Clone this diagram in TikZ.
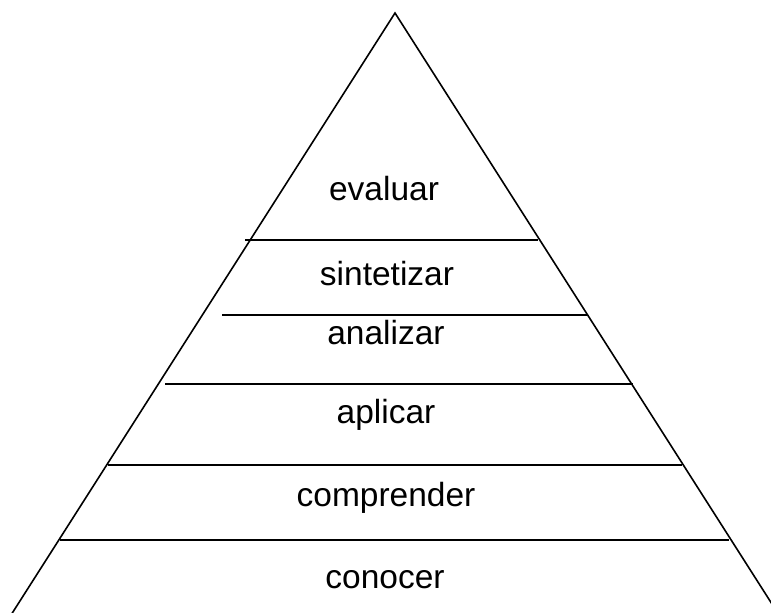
\documentclass[tikz,border=0pt]{standalone}
\usepackage{fontspec}
\setmainfont{Liberation Sans}
\begin{document}
\begin{tikzpicture}[x=1pt,y=-1pt,
  edge/.style={draw=black,line width=1.6pt},
  level/.style={draw=black,line width=1.6pt},
  lab/.style={anchor=base,inner sep=0pt,font=\fontsize{33.5}{40}\selectfont}]
\useasboundingbox (0,0) rectangle (771,613);
\clip (0,0) rectangle (771,613);
% triangle
\coordinate (apex) at (395,13);
\coordinate (bl) at (11,615);
\coordinate (br) at (779,615);
\draw[edge,line join=miter] (bl) -- (apex) -- (br);
% level lines
\draw[level] (245,240) -- (538,240);
\draw[level] (222,315) -- (587,315);
\draw[level] (165,384) -- (633,384);
\draw[level] (108,465) -- (682,465);
\draw[level] (60,540) -- (729,540);
% labels
\node[lab] (evaluar) at (384,200) {evaluar};
\node[lab] (sintetizar) at (387,285) {sintetizar};
\node[lab] (analizar) at (386,344) {analizar};
\node[lab] (aplicar) at (386,423) {aplicar};
\node[lab] (comprender) at (386,506) {comprender};
\node[lab] (conocer) at (385,588) {conocer};
\end{tikzpicture}
\end{document}
